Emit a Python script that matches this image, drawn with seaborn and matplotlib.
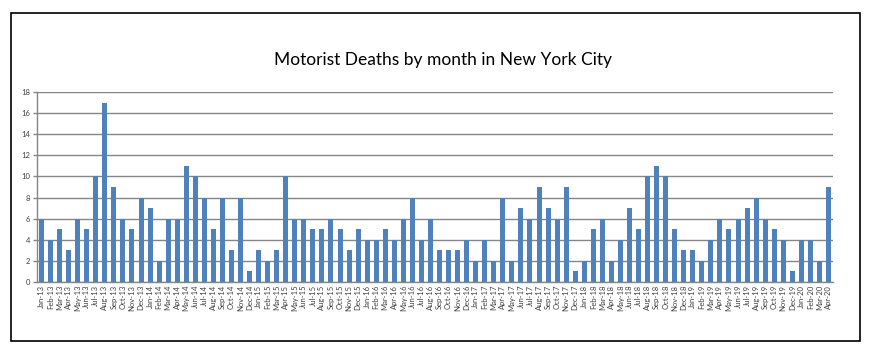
import matplotlib
matplotlib.use("Agg")
import matplotlib.pyplot as plt
import seaborn as sns
import pandas as pd
from matplotlib.patches import Rectangle

sns.set_style("white")
plt.rcParams["font.family"] = ["Lato", "DejaVu Sans"]

months = ["Jan", "Feb", "Mar", "Apr", "May", "Jun",
          "Jul", "Aug", "Sep", "Oct", "Nov", "Dec"]
years = ["13", "14", "15", "16", "17", "18", "19", "20"]
labels = [f"{m}-{y}" for y in years for m in months][:88]

deaths_2013 = [6, 4, 5, 3, 6, 5, 10, 17, 9, 6, 5, 8]
deaths_2014 = [7, 2, 6, 6, 11, 10, 8, 5, 8, 3, 8, 1]
deaths_2015 = [3, 2, 3, 10, 6, 6, 5, 5, 6, 5, 3, 5]
deaths_2016 = [4, 4, 5, 4, 6, 8, 4, 6, 3, 3, 3, 4]
deaths_2017 = [2, 4, 2, 8, 2, 7, 6, 9, 7, 6, 9, 1]
deaths_2018 = [2, 5, 6, 2, 4, 7, 5, 10, 11, 10, 5, 3]
deaths_2019 = [3, 2, 4, 6, 5, 6, 7, 8, 6, 5, 4, 1]
deaths_2020 = [4, 4, 2, 9]

values = (deaths_2013 + deaths_2014 + deaths_2015 + deaths_2016 +
          deaths_2017 + deaths_2018 + deaths_2019 + deaths_2020)

df = pd.DataFrame({"month": labels, "deaths": values})

fig = plt.figure(figsize=(8.78, 3.49), dpi=100)
ax = fig.add_axes([37 / 878, 1 - 282 / 349, (833 - 37) / 878, (282 - 92) / 349])

sns.barplot(data=df, x="month", y="deaths", color="#4F81BD", saturation=1,
            width=0.55, linewidth=0, edgecolor="none", ax=ax)
for bar in ax.patches:
    bar.set_zorder(3)

ax.set_ylim(0, 18)
ax.set_yticks(range(0, 19, 2))
ax.set_xlim(-0.5, len(labels) - 0.5)
ax.yaxis.grid(True, color="#868686", linewidth=1, zorder=1)
ax.set_axisbelow(True)
ax.set_xlabel("")
ax.set_ylabel("")

for side in ["top", "right"]:
    ax.spines[side].set_visible(False)
for side in ["left", "bottom"]:
    ax.spines[side].set_color("#868686")
    ax.spines[side].set_linewidth(1)

ax.tick_params(axis="y", labelsize=5.5, labelcolor="#404040", length=3,
               width=1, direction="out", left=True, pad=2, color="#868686")
ax.tick_params(axis="x", labelsize=5.5, labelcolor="#404040", rotation=90,
               length=0, pad=2)

fig.suptitle("Motorist Deaths by month in New York City", x=443 / 878,
             y=1 - 60 / 349, va="center", fontsize=12.5, color="black")

fig.patches.append(Rectangle((11 / 878, 1 - 341 / 349), (860 - 11) / 878,
                             (341 - 13) / 349, transform=fig.transFigure,
                             fill=False, edgecolor="black", linewidth=1.2))

fig.savefig("out.png", dpi=100)
